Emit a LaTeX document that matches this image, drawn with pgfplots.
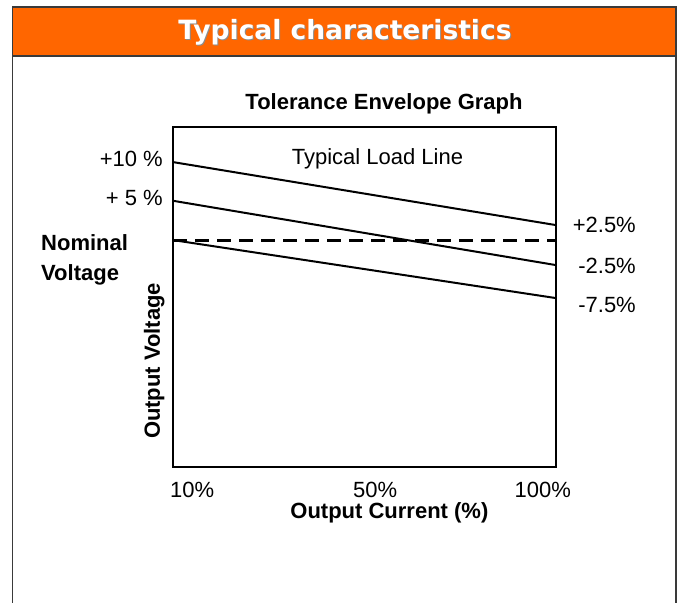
\documentclass[border=0pt]{standalone}
\usepackage{pgfplots}
\pgfplotsset{compat=1.18}
\usepackage{fontspec}
\setmainfont{Liberation Sans}
\newfontfamily\bannerfont{DejaVu Sans}
\definecolor{bannerorange}{HTML}{FF6600}
\definecolor{framegray}{HTML}{3A3A3A}
\newcommand{\fs}{\fontsize{22bp}{26bp}\selectfont}
\begin{document}
\begin{tikzpicture}
\useasboundingbox (0,0) rectangle (680bp,-603bp);
\fill[white] (0,0) rectangle (680bp,-603bp);
\draw[framegray, line width=1.5bp] (12.5bp,-603bp) -- (12.5bp,-7bp) -- (676bp,-7bp) -- (676bp,-603bp);
\filldraw[fill=bannerorange, draw=framegray, line width=1.5bp] (12.5bp,-7bp) rectangle (676bp,-56bp);
\node[anchor=base, inner sep=0, text=black!45, font=\bannerfont\bfseries\fontsize{26.5bp}{30bp}\selectfont] at (346bp,-40bp) {Typical characteristics};
\node[anchor=base, inner sep=0, text=white, font=\bannerfont\bfseries\fontsize{26.5bp}{30bp}\selectfont] at (345bp,-39bp) {Typical characteristics};
\begin{axis}[
  at={(173bp,-467bp)}, anchor=south west,
  scale only axis, width=383bp, height=340bp,
  xmin=10, xmax=100, ymin=-29.1, ymax=14.5,
  axis line style={line width=2.8bp},
  major tick length=0, tick style={draw=none},
  xtick={14.5,57.5,96.9}, xticklabels={10\%,50\%,100\%},
  ytick={10,5}, yticklabels={+10 \%,+ 5 \%},
  xticklabel style={anchor=base, inner sep=0, yshift=-30bp, font=\fs},
  yticklabel style={anchor=base east, inner sep=0, xshift=-10bp, yshift=-4bp, font=\fs},
  title={Tolerance Envelope Graph},
  title style={at={(axis description cs:0.551,1.035)}, anchor=base, inner sep=0, font=\fs\bfseries},
  xlabel={Output Current (\%)},
  xlabel style={at={(axis description cs:0.565,-0.15)}, anchor=base, inner sep=0, font=\fs\bfseries},
  ylabel={Output Voltage},
  ylabel style={at={(axis description cs:-0.034,0.312)}, anchor=base, inner sep=0, font=\fs\bfseries},
]
\addplot[black, line width=2bp] coordinates {(10,10) (100,1.92)};
\addplot[black, line width=2bp] coordinates {(10,5.04) (100,-3.21)};
\addplot[black, line width=2bp] coordinates {(10,0) (100,-7.44)};
\addplot[black, line width=3bp, dash pattern=on 14bp off 8bp] coordinates {(10,0) (100,0)};
\end{axis}
\node[anchor=base west, inner sep=0, font=\fs\bfseries] at (41bp,-250.7bp) {Nominal};
\node[anchor=base west, inner sep=0, font=\fs\bfseries] at (41bp,-280bp) {Voltage};
\node[anchor=base, inner sep=0, font=\fs] at (377.5bp,-164bp) {Typical Load Line};
\node[anchor=base east, inner sep=0, font=\fs] at (636bp,-232bp) {+2.5\%};
\node[anchor=base east, inner sep=0, font=\fs] at (636bp,-273bp) {-2.5\%};
\node[anchor=base east, inner sep=0, font=\fs] at (636bp,-312bp) {-7.5\%};
\end{tikzpicture}
\end{document}
